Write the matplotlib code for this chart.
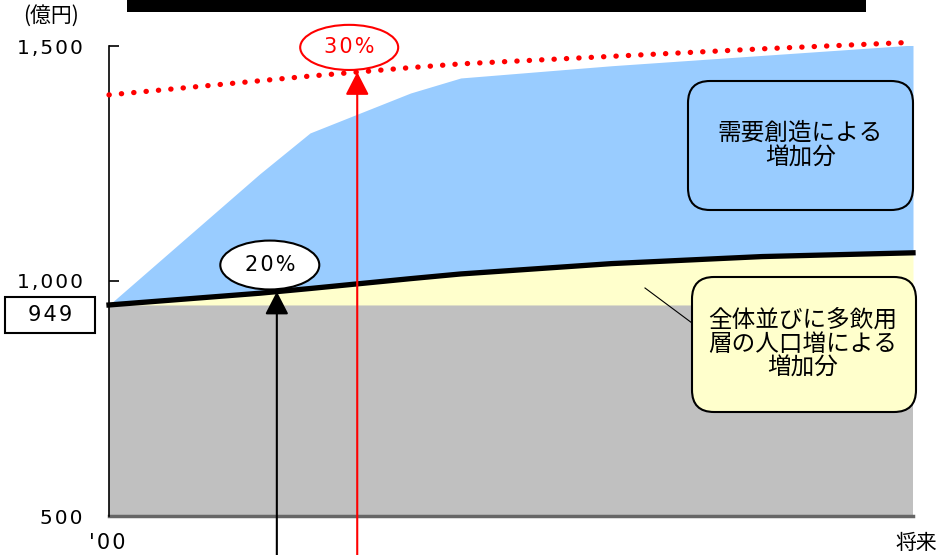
import matplotlib
matplotlib.use('Agg')
import matplotlib.pyplot as plt
from matplotlib.patches import FancyBboxPatch, Ellipse, Rectangle
from matplotlib.lines import Line2D
import numpy as np

# 横軸の位置 ('00 = 0, 将来 = 8)
x = [0, 1.5, 2, 3, 3.5, 5, 6.5, 8]
# 現状水準
base = [949, 949, 949, 949, 949, 949, 949, 949]
# 全体並びに多飲用層の人口増による増加後
population = [949, 974, 984, 1005, 1015, 1037, 1052, 1060]
# 需要創造による増加後
demand = [949, 1228, 1315, 1400, 1432, 1458, 1480, 1502]
# 上限ライン (赤点線)
upper = [1396, 1426, 1436, 1454, 1462, 1478, 1494, 1508]

yticks = [500, 1000, 1500]
ytick_labels = ['500', '1,000', '1,500']
arrow_x = [1.67, 2.47]
arrow_labels = ['20%', '30%']
current_value = '949'


def spaced(s):
    # 字間を少し空ける
    return '\u200a'.join(s)


CJK = ['Noto Sans CJK JP', 'DejaVu Sans']
plt.rcParams['font.family'] = ['DejaVu Sans', 'Noto Sans CJK JP']

fig = plt.figure(figsize=(9.53, 5.55), dpi=100)
ax = fig.add_axes([109 / 953, 39 / 555, 804 / 953, 470 / 555])
ax.set_xlim(0, 8)
ax.set_ylim(500, 1500)

ax.fill_between(x, 500, base, color='#c0c0c0', lw=0, zorder=1)
ax.fill_between(x, base, population, color='#ffffcc', lw=0, zorder=1)
ax.fill_between(x, population, demand, color='#99ccff', lw=0, zorder=1)

ax.plot(x, population, color='black', lw=3.8, zorder=3, clip_on=False)
ax.plot(x, upper, color='red', lw=3.8, ls=(0, (0.05, 2.3)),
        dash_capstyle='round', zorder=3, clip_on=False)

# 矢印
tip_black = np.interp(arrow_x[0], x, population)
tip_red = np.interp(arrow_x[1], x, upper)
ax.annotate('', xy=(arrow_x[0], tip_black), xytext=(arrow_x[0], 380),
            arrowprops=dict(arrowstyle='-|>,head_length=0.7,head_width=0.36',
                            mutation_scale=20, color='black', lw=1.5,
                            shrinkA=0, shrinkB=0),
            annotation_clip=False, zorder=4)
ax.annotate('', xy=(arrow_x[1], tip_red), xytext=(arrow_x[1], 380),
            arrowprops=dict(arrowstyle='-|>,head_length=0.7,head_width=0.36',
                            mutation_scale=20, color='red', lw=1.5,
                            shrinkA=0, shrinkB=0),
            annotation_clip=False, zorder=4)

# 楕円ラベル
e1 = Ellipse((1.60, 1034), 0.985, 104, fc='white', ec='black', lw=1.5,
             zorder=5, clip_on=False)
ax.add_patch(e1)
ax.text(1.60, 1034, spaced(arrow_labels[0]), ha='center', va='center',
        fontsize=15, zorder=6)
e2 = Ellipse((2.39, 1497), 0.975, 96, fc='white', ec='red', lw=1.5,
             zorder=5, clip_on=False)
ax.add_patch(e2)
ax.text(2.39, 1497, spaced(arrow_labels[1]), ha='center', va='center',
        fontsize=15, color='red', zorder=6)

# 軸
for s in ['top', 'right']:
    ax.spines[s].set_visible(False)
ax.spines['left'].set_linewidth(1.2)
ax.spines['bottom'].set_color('#666666')
ax.spines['bottom'].set_linewidth(2.5)
ax.spines['bottom'].set_zorder(2)
ax.set_yticks(yticks)
ax.set_yticklabels([spaced(t) for t in ytick_labels])
ax.tick_params(axis='y', direction='in', length=7, width=1.2, pad=19,
               labelsize=14.5)
ax.set_xticks([])

ax.text(-0.02, -0.057, spaced("'00"), transform=ax.get_xaxis_transform(),
        ha='center', va='center', fontsize=15)
ax.text(8.03, -0.057, '将来', transform=ax.get_xaxis_transform(),
        ha='center', va='center', fontsize=15, family=CJK)

# 図全体の注記 (インチ座標)
tr = fig.dpi_scale_trans
fig.text(0.51, 5.39, '(億円)', transform=tr, ha='center', va='center',
         fontsize=15, family=CJK)
fig.patches.append(Rectangle((1.27, 5.43), 7.39, 0.14, transform=tr,
                             fc='black', ec='none', figure=fig))
fig.patches.append(Rectangle((0.05, 2.22), 0.90, 0.36, transform=tr,
                             fc='white', ec='black', lw=1.5, figure=fig))
fig.text(0.50, 2.40, spaced(current_value), transform=tr, ha='center',
         va='center', fontsize=15)

fig.lines.append(Line2D([6.45, 6.92], [2.67, 2.32], transform=tr,
                        color='black', lw=0.8, figure=fig))

b1 = FancyBboxPatch((6.88, 3.45), 2.25, 1.29,
                    boxstyle='round,pad=0,rounding_size=0.22', transform=tr,
                    fc='#99ccff', ec='black', lw=1.5, figure=fig)
fig.patches.append(b1)
fig.text(8.005, 4.095, '需要創造による\n増加分', transform=tr, ha='center',
         va='center', fontsize=17, linespacing=1.1, family=CJK)

b2 = FancyBboxPatch((6.92, 1.43), 2.24, 1.35,
                    boxstyle='round,pad=0,rounding_size=0.22', transform=tr,
                    fc='#ffffcc', ec='black', lw=1.5, figure=fig)
fig.patches.append(b2)
fig.text(8.03, 2.105, '全体並びに多飲用\n層の人口増による\n増加分', transform=tr,
         ha='center', va='center', fontsize=17, linespacing=1.05, family=CJK)

fig.savefig('out.png', dpi=100)
